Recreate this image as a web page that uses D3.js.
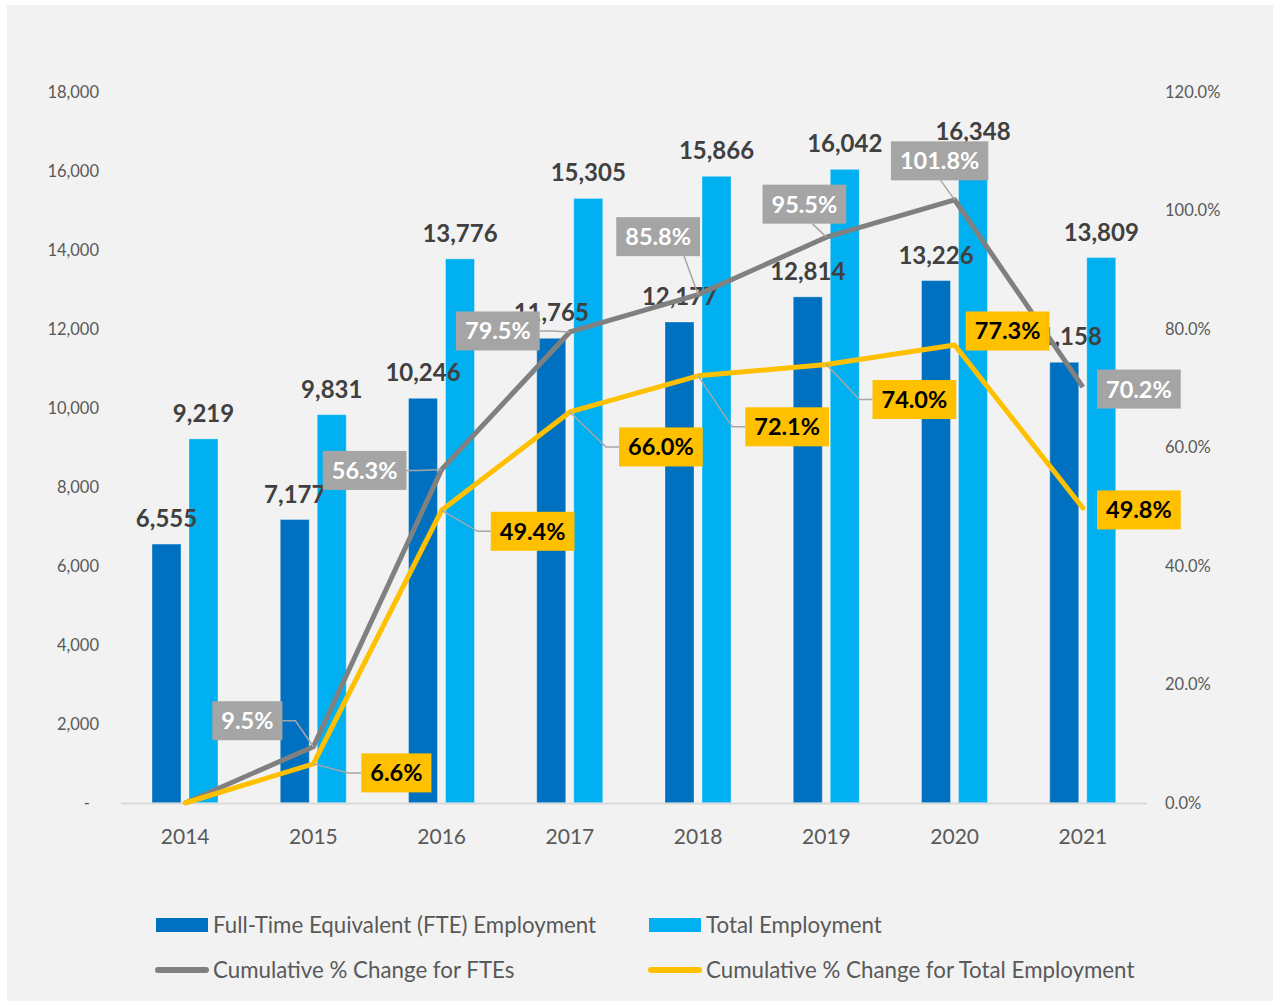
<!DOCTYPE html>
<html>
<head>
<meta charset="utf-8">
<script src="https://cdn.jsdelivr.net/npm/d3@7/dist/d3.min.js"></script>
<style>
  html, body { margin: 0; padding: 0; background: #ffffff; }
  svg { display: block; font-family: Lato, "Open Sans", sans-serif; }
</style>
</head>
<body>
<svg id="chart" width="1273" height="1002"></svg>
<script>
// Employment levels by year
const years = ["2014", "2015", "2016", "2017", "2018", "2019", "2020", "2021"];
const fteEmployment = [6555, 7177, 10246, 11765, 12177, 12814, 13226, 11158];
const totalEmployment = [9219, 9831, 13776, 15305, 15866, 16042, 16348, 13809];
// Cumulative change since 2014
const ftePctChange = [0, 0.095, 0.563, 0.795, 0.858, 0.955, 1.018, 0.702];
const totalPctChange = [0, 0.066, 0.494, 0.660, 0.721, 0.740, 0.773, 0.498];
// Axis ticks
const leftTicks = [0, 2000, 4000, 6000, 8000, 10000, 12000, 14000, 16000, 18000];
const rightTicks = [0, 0.2, 0.4, 0.6, 0.8, 1.0, 1.2];
// Legend entries
const legendLabels = [
  "Full-Time Equivalent (FTE) Employment",
  "Total Employment",
  "Cumulative % Change for FTEs",
  "Cumulative % Change for Total Employment"
];

// Callout placement for the percentage labels (pixel offsets from each point)
const fteCalloutOffsets = [null, [-66, -26], [-77, 1], [-72, -1], [-40, -58], [-22, -33], [-15, -39], [56, 2]];
const totalCalloutOffsets = [null, [83, 9], [91, 21], [91, 35], [89, 51], [88, 35], [53, -14], [56, 2]];

const colors = {
  fte: "#0070c0",
  total: "#00b0f0",
  fteLine: "#808080",
  totalLine: "#ffc000",
  grayBox: "#a5a5a5",
  axisText: "#595959",
  valueText: "#404040",
  leader: "#a6a6a6",
  baseline: "#d9d9d9"
};

const svg = d3.select("#chart");

// Chart area background
svg.append("rect").attr("x", 7).attr("y", 5).attr("width", 1266).attr("height", 996).attr("fill", "#f2f2f2");

const x = d3.scaleBand().domain(years).range([121, 1147]);
const xInner = d3.scaleBand().domain(["fte", "total"]).range([31, 97]).paddingInner(0.216);
const yLeft = d3.scaleLinear().domain([0, 18000]).range([803, 92]);
const yRight = d3.scaleLinear().domain([0, 1.2]).range([803, 92]);
const cx = i => x(years[i]) + x.bandwidth() / 2;

// Left axis
const leftAxis = d3.axisLeft(yLeft).tickValues(leftTicks).tickSize(0).tickPadding(0)
  .tickFormat(d => d === 0 ? "-" : d3.format(",")(d));
const gl = svg.append("g").attr("transform", "translate(99,0)").call(leftAxis);
gl.select(".domain").remove();
gl.selectAll("text").attr("fill", colors.axisText).style("font-size", "16.5px").style("font-family", "Lato")
  .attr("dx", d => d === 0 ? -9 : 0);

// Right axis
const rightAxis = d3.axisRight(yRight).tickValues(rightTicks).tickSize(0).tickPadding(0)
  .tickFormat(d3.format(".1%"));
const gr = svg.append("g").attr("transform", "translate(1165,0)").call(rightAxis);
gr.select(".domain").remove();
gr.selectAll("text").attr("fill", colors.axisText).style("font-size", "16.5px").style("font-family", "Lato");

// Category axis
const xAxis = d3.axisBottom(x).tickSize(0).tickPadding(0);
const gx = svg.append("g").attr("transform", "translate(0,803)").call(xAxis);
gx.select(".domain").remove();
gx.selectAll("text").attr("fill", colors.axisText).style("font-size", "21px").style("font-family", "Lato")
  .attr("y", 26).attr("dy", "0.71em");

// Bars
const barData = years.map((yr, i) => ({ yr, i, fte: fteEmployment[i], total: totalEmployment[i] }));
const groups = svg.append("g").selectAll("g").data(barData).join("g")
  .attr("transform", d => `translate(${x(d.yr)},0)`);
["fte", "total"].forEach(key => {
  groups.append("rect")
    .attr("x", xInner(key))
    .attr("width", xInner.bandwidth())
    .attr("y", d => yLeft(d[key]))
    .attr("height", d => yLeft(0) - yLeft(d[key]))
    .attr("fill", colors[key])
    .attr("stroke", "rgba(255,255,255,0.35)")
    .attr("stroke-width", 1);
});

// Baseline
svg.append("line").attr("x1", 121).attr("x2", 1147).attr("y1", 803.5).attr("y2", 803.5)
  .attr("stroke", colors.baseline).attr("stroke-width", 2);

// Value labels above bars
["fte", "total"].forEach(key => {
  groups.append("text")
    .attr("x", xInner(key) + xInner.bandwidth() / 2)
    .attr("y", d => yLeft(d[key]) - 17)
    .attr("text-anchor", "middle")
    .attr("fill", colors.valueText)
    .style("font-size", "24px").style("font-weight", "bold")
    .text(d => d3.format(",")(d[key]));
});

// Cumulative change lines
const lineGen = d3.line().x((d, i) => cx(i)).y(d => yRight(d));
svg.append("path").datum(ftePctChange).attr("d", lineGen)
  .attr("fill", "none").attr("stroke", colors.fteLine).attr("stroke-width", 5)
  .attr("stroke-linejoin", "round");
svg.append("path").datum(totalPctChange).attr("d", lineGen)
  .attr("fill", "none").attr("stroke", colors.totalLine).attr("stroke-width", 5)
  .attr("stroke-linejoin", "round").attr("stroke-linecap", "round");

// Percentage callouts with leader lines
const leaderLayer = svg.append("g");
const calloutLayer = svg.append("g");
function drawCallouts(values, offsets, boxFill, textFill) {
  values.forEach((v, i) => {
    if (!offsets[i]) return;
    const px = cx(i), py = yRight(v);
    const bx = px + offsets[i][0], by = py + offsets[i][1];
    const g = calloutLayer.append("g");
    const rect = g.append("rect").attr("fill", boxFill);
    const t = g.append("text")
      .attr("x", bx).attr("y", by + 8.5)
      .attr("text-anchor", "middle")
      .attr("fill", textFill)
      .style("font-size", "23.5px").style("font-weight", "bold")
      .text(d3.format(".1%")(v));
    const w = t.node().getComputedTextLength() + 18;
    const h = 39;
    rect.attr("x", bx - w / 2).attr("y", by - h / 2).attr("width", w).attr("height", h);

    let pts = null;
    const leftEdge = bx - w / 2, rightEdge = bx + w / 2;
    if (px < leftEdge - 20) {
      pts = [[px, py], [leftEdge - 13, by], [leftEdge, by]];
    } else if (px > rightEdge + 20) {
      pts = [[px, py], [rightEdge + 13, by], [rightEdge, by]];
    } else if (py > by + h / 2 + 10) {
      pts = [[px, py], [px - 14, by + h / 2]];
    }
    if (pts) {
      leaderLayer.append("path").attr("d", d3.line()(pts))
        .attr("fill", "none").attr("stroke", colors.leader).attr("stroke-width", 1.5);
    }
  });
}
drawCallouts(ftePctChange, fteCalloutOffsets, colors.grayBox, "#ffffff");
drawCallouts(totalPctChange, totalCalloutOffsets, colors.totalLine, "#000000");

// Legend
const legend = svg.append("g");
const legendItems = [
  { label: legendLabels[0], type: "rect", color: colors.fte, x: 156, y: 925 },
  { label: legendLabels[1], type: "rect", color: colors.total, x: 649, y: 925 },
  { label: legendLabels[2], type: "line", color: colors.fteLine, x: 156, y: 970 },
  { label: legendLabels[3], type: "line", color: colors.totalLine, x: 649, y: 970 }
];
legendItems.forEach(it => {
  if (it.type === "rect") {
    legend.append("rect").attr("x", it.x).attr("y", it.y - 7).attr("width", 52).attr("height", 14).attr("fill", it.color);
  } else {
    legend.append("line").attr("x1", it.x + 2).attr("x2", it.x + 50).attr("y1", it.y).attr("y2", it.y)
      .attr("stroke", it.color).attr("stroke-width", 6).attr("stroke-linecap", "round");
  }
  legend.append("text").attr("x", it.x + 57).attr("y", it.y + 7.5)
    .attr("fill", colors.axisText).style("font-size", "22.3px")
    .text(it.label);
});
</script>
</body>
</html>
